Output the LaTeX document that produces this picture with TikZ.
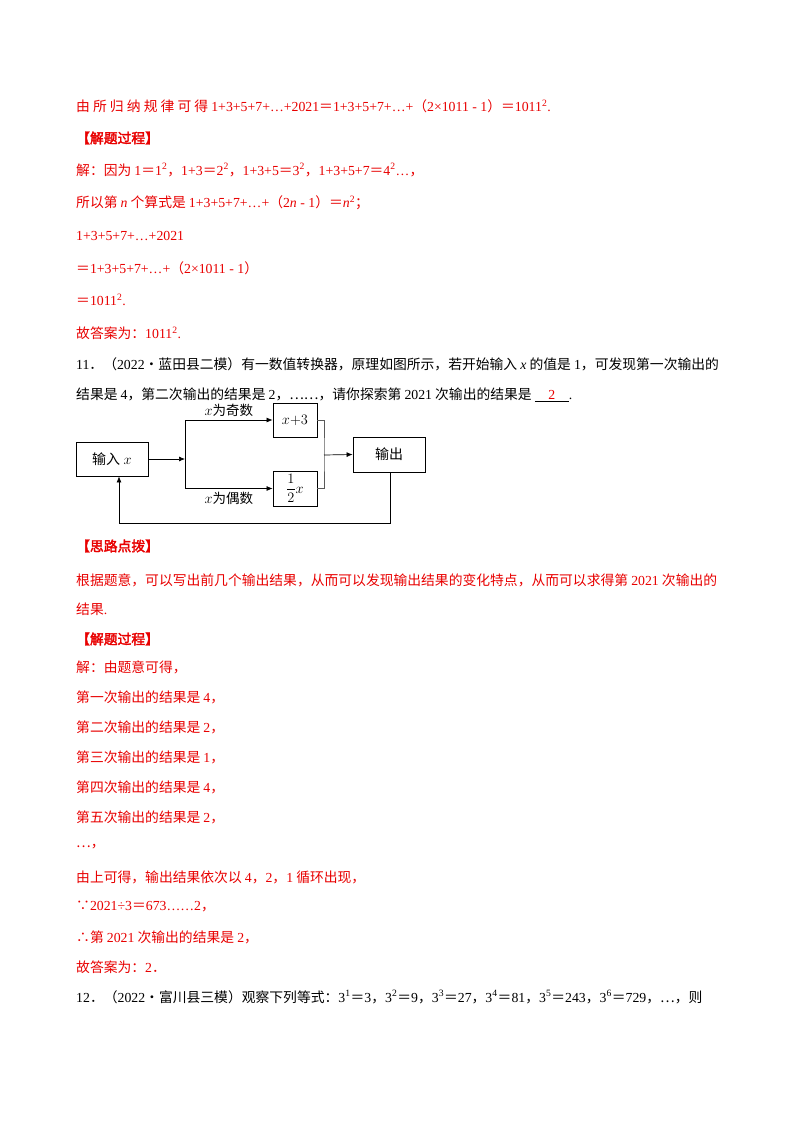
\documentclass[tikz,border=0pt]{standalone}
\usepackage{fontspec}
\setmainfont{Liberation Serif}
\newfontfamily\cjk{Noto Sans CJK SC}[AutoFakeBold=2.5]
\newcommand{\zh}[1]{{\cjk #1}}
\newcommand{\sq}[1]{\textsuperscript{#1}}
\definecolor{rd}{RGB}{232,0,0}
\definecolor{ln}{RGB}{90,90,90}
\begin{document}
\begin{tikzpicture}[x=1pt,y=-1pt,
  every node/.style={font=\fontsize{13.8}{15}\selectfont},
  tl/.style={anchor=west,inner sep=0pt},
  red/.style={text=rd},
  box/.style={draw=black,line width=0.8pt,minimum width=#1,inner sep=0pt,font=\fontsize{14}{16}\selectfont},
  lab/.style={font=\fontsize{13.5}{15}\selectfont},
  wire/.style={draw=ln,line width=0.7pt},
  arr/.style={wire,-{Latex[length=6pt,width=5pt]},draw=black}]
\usetikzlibrary{arrows.meta}
\useasboundingbox (0,0) rectangle (800,1132);
\node[tl,red] (l1) at (76,106) {\zh{由 所 归 纳 规 律 可 得 }1+3+5+7+…+2021\zh{＝}1+3+5+7+…+\zh{（}2×1011 - 1\zh{）＝}1011\sq{2}.};
\node[tl,red] (h1) at (76,138) {\zh{\bfseries 【解题过程】}};
\node[tl,red] (l3) at (76,170) {\zh{解：因为 }1\zh{＝}1\sq{2}\zh{，}1+3\zh{＝}2\sq{2}\zh{，}1+3+5\zh{＝}3\sq{2}\zh{，}1+3+5+7\zh{＝}4\sq{2}…\zh{，}};
\node[tl,red] (l4) at (76,203) {\zh{所以第 }\textit{n}\zh{ 个算式是 }1+3+5+7+…+\zh{（}2\textit{n} - 1\zh{）＝}\textit{n}\sq{2}\zh{；}};
\node[tl,red] (l5) at (76,236) {1+3+5+7+…+2021};
\node[tl,red] (l6) at (76,268) {\zh{＝}1+3+5+7+…+\zh{（}2×1011 - 1\zh{）}};
\node[tl,red] (l7) at (76,300) {\zh{＝}1011\sq{2}.};
\node[tl,red] (l8) at (76,333) {\zh{故答案为：}1011\sq{2}.};
\node[tl] (q1) at (76,364) {11\zh{．（}2022\zh{•蓝田县二模）有一数值转换器，原理如图所示，若开始输入 }\textit{x}\zh{ 的值是 }1\zh{，可发现第一次输出的}};
\node[tl] (q2) at (76,395) {\zh{结果是 }4\zh{，第二次输出的结果是 }2\zh{，……，请你探索第 }2021\zh{ 次输出的结果是 }\underline{\hbox to 34pt{\hfil\textcolor{rd}{2}\hfil}}.};
% diagram
\node[box=72pt,minimum height=34pt] (in) at (112,459) {\zh{输入} $x$};
\node[box=44pt,minimum height=34pt] (odd) at (295,420) {$x{+}3$};
\node[box=44pt,minimum height=35pt] (even) at (295,488.5) {$\displaystyle\frac{1}{2}x$};
\node[box=72pt,minimum height=35pt] (out) at (389,454.5) {\zh{输出}};
\coordinate (br) at (185,459);
\coordinate (mg) at (324,455);
\draw[arr] (in.east) -- (br);
\draw[arr] (br) |- (odd.west) node[pos=0.75,above=0pt,lab] {$x$\zh{为奇数}};
\draw[arr] (br) |- (even.west) node[pos=0.75,below=0pt,lab] {$x$\zh{为偶数}};
\draw[wire] (odd.east) -| (mg) |- (even.east);
\draw[arr] (mg) -- (out.west);
\draw[arr] (out.south -| 390,0) -- (390,523) -| (in.south -| 119,0);
% part 2
\node[tl,red] (h2) at (76,546) {\zh{\bfseries 【思路点拨】}};
\node[tl,red] (r1) at (76,580) {\zh{根据题意，可以写出前几个输出结果，从而可以发现输出结果的变化特点，从而可以求得第 }2021\zh{ 次输出的}};
\node[tl,red] (r2) at (76,609) {\zh{结果}.};
\node[tl,red] (h3) at (76,639) {\zh{\bfseries 【解题过程】}};
\node[tl,red] (s1) at (76,667) {\zh{解：由题意可得，}};
\node[tl,red] (s2) at (76,697) {\zh{第一次输出的结果是 }4\zh{，}};
\node[tl,red] (s3) at (76,727) {\zh{第二次输出的结果是 }2\zh{，}};
\node[tl,red] (s4) at (76,757) {\zh{第三次输出的结果是 }1\zh{，}};
\node[tl,red] (s5) at (76,787) {\zh{第四次输出的结果是 }4\zh{，}};
\node[tl,red] (s6) at (76,817) {\zh{第五次输出的结果是 }2\zh{，}};
\node[tl,red] (s7) at (76,847) {\zh{…，}};
\node[tl,red] (s8) at (76,877) {\zh{由上可得，输出结果依次以 }4\zh{，}2\zh{，}1\zh{ 循环出现，}};
\node[tl,red] (s9) at (76,907) {\zh{∵}2021÷3\zh{＝}673……2\zh{，}};
\node[tl,red] (s10) at (76,937) {\zh{∴第 }2021\zh{ 次输出的结果是 }2\zh{，}};
\node[tl,red] (s11) at (76,967) {\zh{故答案为：}2\zh{．}};
\node[tl] (q3) at (76,997) {12\zh{．（}2022\zh{•富川县三模）观察下列等式：}3\sq{1}\zh{＝}3\zh{，}3\sq{2}\zh{＝}9\zh{，}3\sq{3}\zh{＝}27\zh{，}3\sq{4}\zh{＝}81\zh{，}3\sq{5}\zh{＝}243\zh{，}3\sq{6}\zh{＝}729\zh{，…，则}};
\end{tikzpicture}
\end{document}
